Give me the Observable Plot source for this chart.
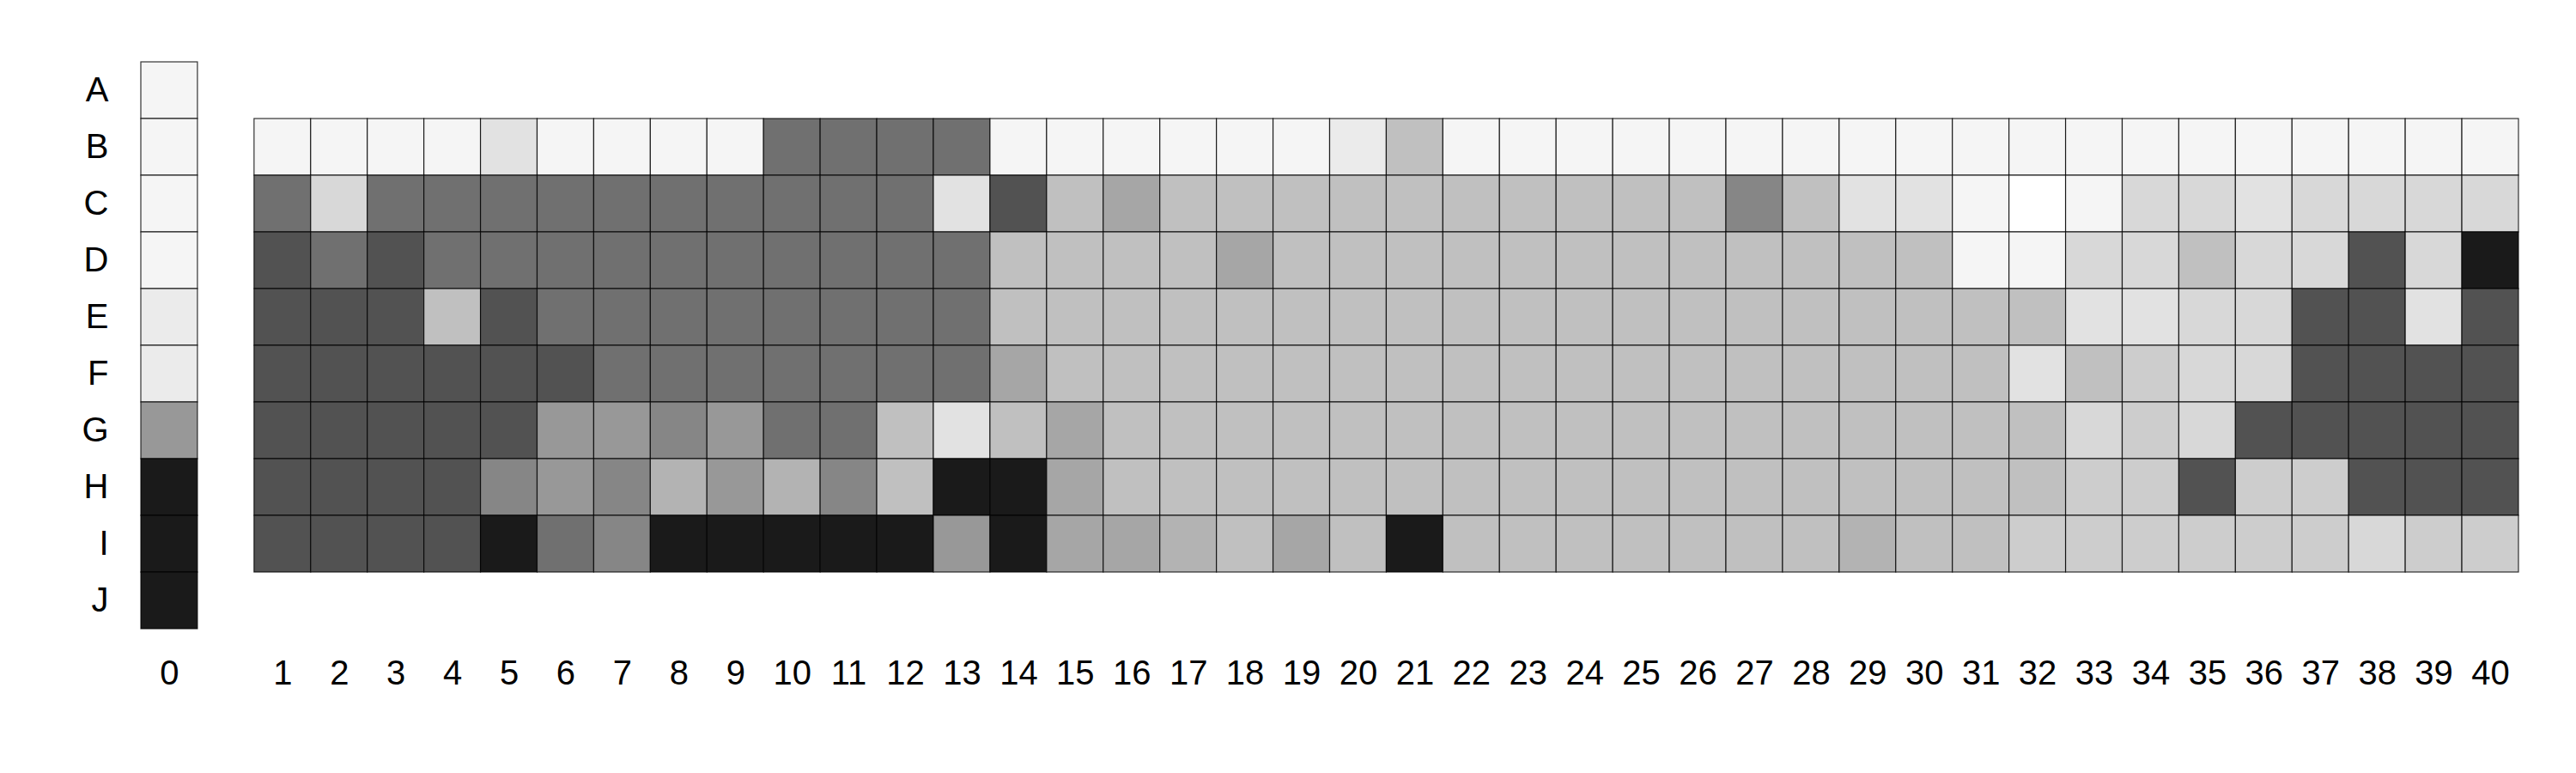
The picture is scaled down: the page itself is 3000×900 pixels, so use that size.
<!DOCTYPE html>
<html>
<head>
<meta charset="utf-8">
<script src="https://cdn.jsdelivr.net/npm/d3@7"></script>
<script src="https://cdn.jsdelivr.net/npm/@observablehq/plot@0.6"></script>
<style>
  html, body { margin: 0; padding: 0; background: #fff; }
  #chart svg { display: block; }
</style>
</head>
<body>
<div id="chart"></div>
<script>
// Row labels (y) and column labels (x)
const rowLabels = ["A", "B", "C", "D", "E", "F", "G", "H", "I", "J"];
const gridRows = ["B", "C", "D", "E", "F", "G", "H", "I"];
const columns = [1, 2, 3, 4, 5, 6, 7, 8, 9, 10, 11, 12, 13, 14, 15, 16, 17, 18, 19, 20,
                 21, 22, 23, 24, 25, 26, 27, 28, 29, 30, 31, 32, 33, 34, 35, 36, 37, 38, 39, 40];

// Shade level per cell (0 = white ... 13 = near black)
const column0 = [1, 1, 1, 1, 2, 2, 9, 13, 13, 13]; // rows A..J

const rowB = [1,1,1,1,3,1,1,1, 1,11,11,11,11,1,1,1, 1,1,1,2,6,1,1,1, 1,1,1,1,1,1,1,1, 1,1,1,1,1,1,1,1];
const rowC = [11,4,11,11,11,11,11,11, 11,11,11,11,3,12,6,8, 6,6,6,6,6,6,6,6, 6,6,10,6,3,3,1,0, 1,4,4,3,4,4,4,4];
const rowD = [12,11,12,11,11,11,11,11, 11,11,11,11,11,6,6,6, 6,8,6,6,6,6,6,6, 6,6,6,6,6,6,1,1, 4,4,6,4,4,12,4,13];
const rowE = [12,12,12,6,12,11,11,11, 11,11,11,11,11,6,6,6, 6,6,6,6,6,6,6,6, 6,6,6,6,6,6,6,6, 3,3,4,4,12,12,3,12];
const rowF = [12,12,12,12,12,12,11,11, 11,11,11,11,11,8,6,6, 6,6,6,6,6,6,6,6, 6,6,6,6,6,6,6,3, 6,5,4,4,12,12,12,12];
const rowG = [12,12,12,12,12,9,9,10, 9,11,11,6,3,6,8,6, 6,6,6,6,6,6,6,6, 6,6,6,6,6,6,6,6, 4,5,4,12,12,12,12,12];
const rowH = [12,12,12,12,10,9,10,7, 9,7,10,6,13,13,8,6, 6,6,6,6,6,6,6,6, 6,6,6,6,6,6,6,6, 5,5,12,5,5,12,12,12];
const rowI = [12,12,12,12,13,11,10,13, 13,13,13,13,9,13,8,8, 7,6,8,6,13,6,6,6, 6,6,6,6,7,6,6,5, 5,5,5,5,5,4,5,5];

const gridValues = [rowB, rowC, rowD, rowE, rowF, rowG, rowH, rowI];

// Build the tidy table
const cells = [];
rowLabels.forEach((r, i) => cells.push({col: "0", row: r, level: column0[i]}));
gridRows.forEach((r, i) => {
  columns.forEach((c, j) => cells.push({col: String(c), row: r, level: gridValues[i][j]}));
});

const gap = " ";
const xDomain = ["0", gap, ...columns.map(String)];
const levels = [0,1,2,3,4,5,6,7,8,9,10,11,12,13];
const grays = ["#ffffff","#f5f5f5","#ebebeb","#e2e2e2","#d8d8d8","#cdcdcd","#c0c0c0",
               "#b3b3b3","#a6a6a6","#989898","#868686","#707070","#525252","#1a1a1a"];

const chart = Plot.plot({
  width: 3000,
  height: 900,
  marginTop: 71,
  marginBottom: 168,
  marginLeft: 164,
  marginRight: 67,
  style: {fontFamily: "Liberation Sans, Arial, Helvetica, sans-serif", fontSize: "40px", background: "#fff"},
  x: {type: "band", domain: xDomain, padding: 0},
  y: {type: "band", domain: rowLabels, padding: 0},
  color: {type: "ordinal", domain: levels, range: grays},
  marks: [
    Plot.cell(cells, {
      x: "col", y: "row", fill: "level",
      stroke: "#000", strokeWidth: 1.2, strokeOpacity: 0.8, inset: 0
    }),
    Plot.axisX({
      anchor: "bottom", ticks: xDomain.filter(d => d !== gap),
      tickSize: 0, tickPadding: 36, label: null,
      fontSize: 40, fill: "#000"
    }),
    Plot.axisY({
      anchor: "left", tickSize: 0, tickPadding: 38, label: null,
      fontSize: 40, fill: "#000"
    })
  ]
});
document.getElementById("chart").appendChild(chart);
</script>
</body>
</html>
